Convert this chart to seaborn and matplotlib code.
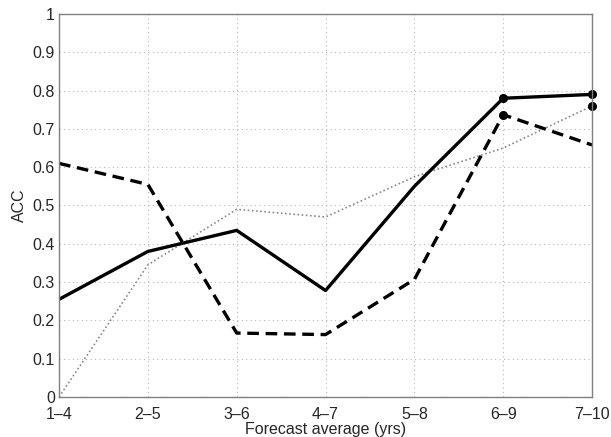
import matplotlib
matplotlib.use("Agg")
import matplotlib.pyplot as plt
import numpy as np
import pandas as pd
import seaborn as sns

periods = ["1–4", "2–5", "3–6", "4–7", "5–8", "6–9", "7–10"]
acc_solid = [0.255, 0.38, 0.435, 0.278, 0.55, 0.78, 0.79]
acc_dashed = [0.61, 0.555, 0.167, 0.163, 0.307, 0.737, 0.658]
acc_dotted = [0.0, 0.345, 0.49, 0.47, 0.575, 0.65, 0.76]
# points marked with a dot (per series)
sig_solid = [5, 6]
sig_dashed = [5]
sig_dotted = [6]

sns.set_style("white")
plt.rcParams["font.family"] = ["Liberation Sans", "DejaVu Sans"]

x = np.arange(len(periods))
df = pd.DataFrame({"x": x, "solid": acc_solid, "dashed": acc_dashed, "dotted": acc_dotted})

fig = plt.figure(figsize=(6.11, 4.37), dpi=100)
ax = fig.add_axes([0.0966, 0.0915, 0.8724, 0.8765])

sns.lineplot(data=df, x="x", y="dotted", ax=ax, color="#8a8a8a", linewidth=1.2,
             linestyle=(0, (1, 1.5)))
sns.lineplot(data=df, x="x", y="dashed", ax=ax, color="black", linewidth=2.4,
             linestyle=(0, (3.5, 2)))
sns.lineplot(data=df, x="x", y="solid", ax=ax, color="black", linewidth=2.4)

ax.plot(x[sig_solid], np.array(acc_solid)[sig_solid], "o", color="black", ms=5.5, clip_on=False)
ax.plot(x[sig_dashed], np.array(acc_dashed)[sig_dashed], "o", color="black", ms=5.5, clip_on=False)
ax.plot(x[sig_dotted], np.array(acc_dotted)[sig_dotted], "o", color="black", ms=5.5, clip_on=False)

ax.set_xlim(0, len(periods) - 1)
ax.set_ylim(0, 1)
ax.set_xticks(x)
ax.set_xticklabels(periods)
ax.set_yticks(np.arange(0, 1.01, 0.1))
ax.set_yticklabels(["0"] + [f"{v:.1f}" for v in np.arange(0.1, 0.95, 0.1)] + ["1"])
ax.grid(True, linestyle=(0, (1, 3)), color="#b8b8b8", linewidth=0.8)
ax.tick_params(direction="in", length=4, color="#808080", labelsize=11.5)
ax.tick_params(axis="x", pad=7)
ax.tick_params(axis="y", pad=3)
for s in ax.spines.values():
    s.set_color("#808080")
    s.set_linewidth(1.0)
ax.set_xlabel("Forecast average (yrs)", fontsize=11.5, labelpad=0)
ax.set_ylabel("ACC", fontsize=11.5, labelpad=4)

fig.savefig("out.png", dpi=100)
